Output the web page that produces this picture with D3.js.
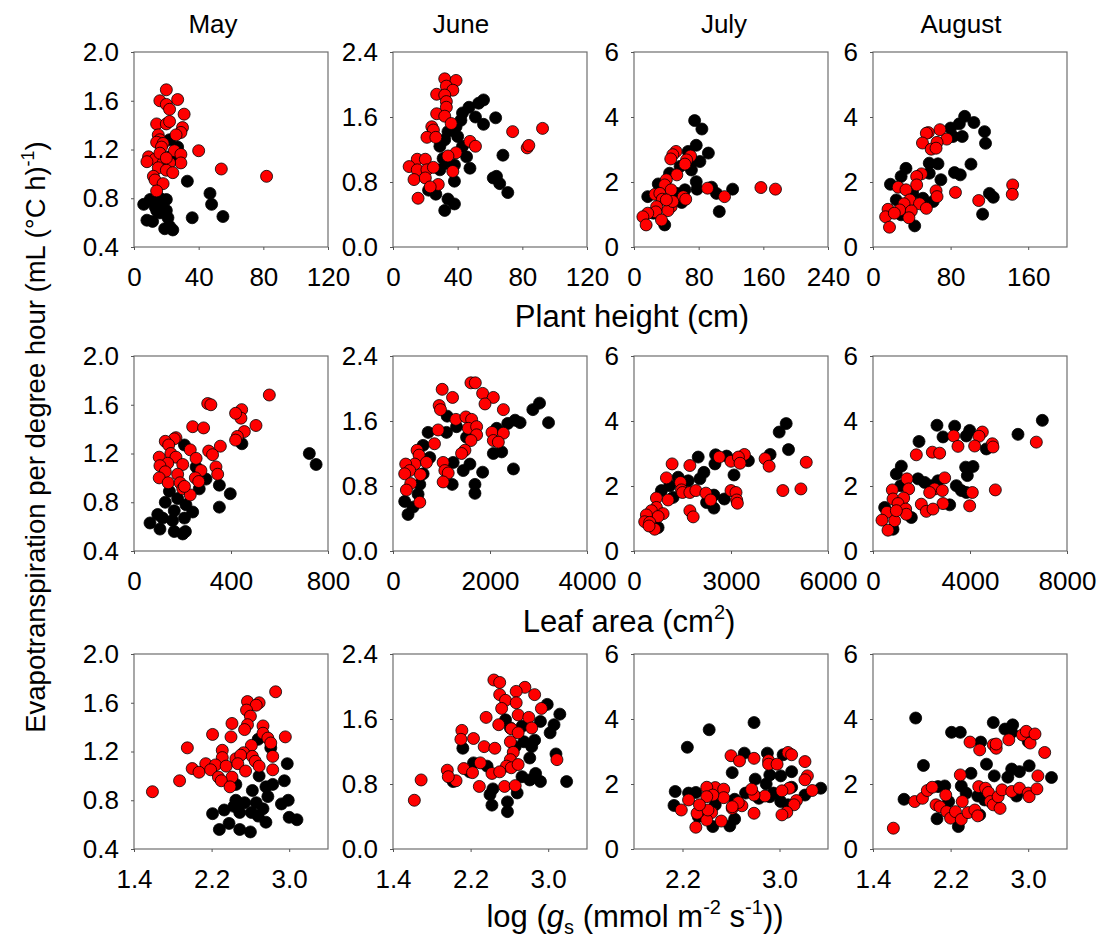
<!DOCTYPE html>
<html>
<head>
<meta charset="utf-8">
<script src="https://cdn.jsdelivr.net/npm/d3@7"></script>
<style>
  body { margin: 0; background: #fff; }
  svg text { font-family: "Liberation Sans", Arial, sans-serif; fill: #000; }
</style>
</head>
<body>
<svg id="chart" width="1102" height="938"></svg>
<script>
// ---- data: [x, y] pairs (black = one group, red = other) ----
const mayHeightRed = [[20,1.69],[16,1.60],[27,1.61],[20,1.57],[22,1.53],[31,1.49],[14,1.41],[20,1.41],[22,1.43],[30,1.38],[29,1.34],[26,1.32],[15,1.32],[16,1.28],[14,1.26],[18,1.25],[17,1.22],[25,1.19],[40,1.19],[29,1.16],[9,1.14],[13,1.12],[8,1.10],[18,1.09],[29,1.09],[22,1.09],[15,1.05],[20,1.03],[54,1.04],[24,1.01],[12,0.98],[82,0.98],[13,0.95],[18,0.92],[14,0.86],[16,1.17],[20,1.13]];
const mayHeightBlack = [[27,1.22],[22,1.28],[33,0.94],[47,0.84],[48,0.75],[55,0.65],[36,0.64],[6,0.75],[10,0.79],[13,0.73],[16,0.80],[20,0.79],[8,0.62],[11.5,0.61],[16,0.68],[20,0.70],[21,0.64],[22,0.57],[19,0.55],[24,0.54],[14,0.70],[17,0.76],[22,1.14],[24,1.12]];
const junHeightRed = [[32,2.07],[39,2.05],[33,1.98],[37,1.93],[27,1.88],[32,1.87],[33,1.79],[33,1.72],[27,1.64],[32,1.61],[36,1.52],[24,1.48],[25,1.44],[21,1.35],[26.5,1.35],[74,1.42],[92.5,1.46],[47.6,1.30],[51,1.24],[83,1.22],[84,1.25],[39,1.16],[34,1.12],[15,1.08],[20,1.08],[10,0.99],[15,0.95],[21,0.95],[25,0.98],[37,0.93],[13,0.83],[20,0.85],[28,0.77],[23,0.74],[15.5,0.60]];
const junHeightBlack = [[56,1.81],[53,1.77],[47,1.72],[43,1.65],[51,1.60],[63.5,1.59],[56,1.51],[42,1.56],[39,1.48],[34,1.42],[32,1.32],[29,1.24],[43,1.24],[45.5,1.11],[68,1.13],[47.6,0.97],[38,1.01],[31,1.09],[62,0.85],[64,0.87],[66,0.78],[71,0.67],[38,0.81],[22,0.70],[26.5,0.65],[34,0.59],[38,0.53],[32,0.45],[29,0.95],[33,1.03],[40,1.36]];
const julHeightRed = [[52,2.94],[48,2.84],[45.5,2.71],[70,2.80],[65,2.68],[63,2.55],[53,2.22],[40,2.07],[38,1.91],[26,1.62],[32,1.65],[46,1.76],[61,1.55],[64,1.47],[35,1.47],[28,1.24],[46,1.24],[42,1.12],[27,1.08],[34,0.83],[17,1.04],[11,0.93],[15,0.68],[91,1.81],[112,1.55],[157,1.83],[175,1.78],[48,1.40],[40,1.45]];
const julHeightBlack = [[75,3.89],[84,3.63],[77,3.13],[92,2.89],[81.5,2.63],[71,2.37],[77,2.01],[78,1.78],[96,1.84],[102,1.65],[105.5,1.09],[122,1.78],[17,1.55],[30,1.94],[44,2.27],[57,2.48],[38,0.68],[59,1.37],[63,1.76],[67,2.94],[71,2.63],[24,1.04],[53,1.65]];
const augHeightRed = [[69,3.61],[57,3.52],[55,3.50],[76,3.32],[66,3.22],[51,3.20],[60,3.01],[65,3.04],[50,2.25],[45,2.17],[26,1.84],[45,1.91],[34,1.76],[85,1.68],[65,1.73],[66,1.55],[38,1.45],[48,1.33],[55,1.19],[32,1.33],[27.5,1.14],[39.5,1.11],[15.5,1.16],[13,0.93],[37,0.90],[17,0.61],[109,1.43],[144,1.91],[143.6,1.62],[22,1.04]];
const augHeightBlack = [[94.5,4.02],[104,3.83],[89,3.79],[80,3.66],[92,3.40],[115,3.55],[116,3.19],[82.5,3.40],[58,2.58],[67,2.56],[101,2.55],[84,2.29],[90,2.22],[70,2.07],[34,2.42],[29,2.17],[18,1.93],[58,2.27],[120,1.65],[124,1.53],[113,1.01],[43,0.65],[24,1.45],[41,1.65],[51.5,1.50],[62,1.40],[29,0.99]];

const mayLeafRed = [[558,1.68],[304,1.61],[317,1.60],[444,1.56],[441,1.49],[419,1.53],[242,1.42],[287,1.41],[503,1.43],[455,1.38],[426,1.34],[419,1.31],[173,1.33],[166,1.32],[129,1.30],[143,1.27],[356,1.26],[308,1.22],[324,1.19],[232,1.23],[152,1.20],[173,1.17],[104,1.17],[256,1.16],[139,1.12],[107,1.10],[201,1.11],[129,1.05],[104,1.00],[276,1.06],[338,1.09],[345,1.03],[180,1.03],[253,1.00],[267,0.97],[141,0.96],[190,0.96],[201,0.91],[232,0.86],[208,0.93]];
const mayLeafBlack = [[751,1.11],[723,1.20],[445,1.28],[208,1.27],[256,1.09],[297,0.99],[352,0.94],[397,0.87],[352,0.76],[269,0.91],[146,0.89],[129,0.80],[180,0.83],[214,0.78],[98,0.70],[66,0.63],[107,0.58],[159,0.65],[208,0.67],[242,0.72],[166,0.56],[201,0.54],[212,0.56],[118,0.67],[166,0.73]];
const junLeafRed = [[1607,2.07],[1697,2.07],[1014,1.99],[1848,1.94],[2069,1.89],[1228,1.89],[1897,1.81],[952,1.79],[979,1.74],[2276,1.74],[1297,1.62],[1503,1.65],[1621,1.62],[1552,1.51],[1724,1.53],[1724,1.43],[931,1.49],[2041,1.46],[2276,1.45],[2069,1.36],[1607,1.36],[2172,1.34],[855,1.32],[1483,1.24],[1414,1.20],[497,1.24],[538,1.18],[690,1.09],[448,1.07],[262,1.07],[1034,1.09],[1069,0.99],[1138,0.96],[345,0.99],[241,0.95],[566,0.94],[366,0.83],[1034,0.85],[276,0.75],[552,0.60]];
const junLeafBlack = [[3021,1.82],[2883,1.74],[3207,1.58],[2621,1.58],[2517,1.61],[2366,1.57],[2138,1.51],[724,1.46],[1103,1.46],[1117,1.66],[1310,1.53],[1517,1.40],[621,1.30],[759,1.15],[2069,1.20],[2241,1.22],[1241,1.09],[1586,1.07],[1448,0.99],[1848,0.97],[2483,1.01],[1221,0.82],[1690,0.82],[1690,0.71],[552,0.82],[517,0.70],[414,0.54],[241,0.61],[310,0.45],[621,0.95]];
const julLeafRed = [[3414,2.97],[2638,2.89],[3000,2.76],[3228,2.89],[3279,2.70],[4055,2.84],[4179,2.61],[5327,2.73],[1179,2.68],[1728,2.63],[1003,2.25],[1438,2.11],[1469,1.88],[1500,1.80],[1728,1.80],[1914,1.86],[2224,1.78],[2369,1.57],[3000,1.86],[3155,1.80],[3176,1.57],[3197,1.47],[4603,1.86],[5162,1.91],[693,1.63],[1055,1.57],[693,1.34],[900,1.15],[538,1.24],[1728,1.24],[1831,1.05],[745,1.06],[383,1.11],[331,0.90],[486,0.88],[641,0.67],[465,0.77]];
const julLeafBlack = [[4707,3.92],[4490,3.66],[4779,3.12],[4210,2.97],[3538,2.78],[3093,2.34],[2503,2.68],[2524,2.96],[2865,2.92],[1986,2.89],[2162,2.42],[2038,2.22],[2472,1.72],[2245,1.49],[2472,1.32],[2793,1.60],[1366,2.27],[1107,2.01],[848,1.86],[1210,1.65],[745,0.72],[1676,2.16]];
const augLeafRed = [[6735,3.35],[4509,3.66],[4371,3.53],[3326,3.54],[3505,3.22],[4192,3.23],[4921,3.30],[4948,3.20],[2447,3.04],[2749,3.01],[1787,2.96],[2955,2.25],[1402,2.22],[1471,1.91],[797,1.88],[5045,1.88],[4096,1.80],[2543,1.91],[2337,1.80],[2859,1.86],[825,1.60],[1265,1.63],[1031,1.46],[1993,1.44],[2887,1.46],[3986,1.39],[2199,1.22],[2474,1.29],[1347,1.29],[1375,1.13],[577,1.19],[371,0.95],[893,0.93],[619,0.64],[962,1.24]];
const augLeafBlack = [[6983,4.02],[5979,3.59],[2639,3.87],[3368,3.84],[3986,3.71],[2887,3.51],[3849,3.54],[4674,3.14],[1897,3.37],[4124,2.60],[3821,2.58],[3890,2.32],[1168,2.61],[962,2.37],[1856,2.22],[2405,2.01],[2680,2.16],[3436,2.01],[3643,1.86],[3849,1.80],[3162,1.42],[1581,1.03],[825,0.67],[481,1.34],[1141,2.01],[2131,2.11]];

const mayGsRed = [[2.86,1.69],[2.57,1.61],[2.69,1.60],[2.66,1.58],[2.56,1.54],[2.60,1.49],[2.57,1.42],[2.54,1.38],[2.41,1.43],[2.73,1.41],[2.73,1.35],[2.78,1.31],[2.96,1.32],[2.21,1.34],[2.40,1.32],[2.81,1.27],[2.61,1.25],[1.95,1.23],[2.31,1.21],[2.31,1.15],[2.53,1.19],[2.45,1.14],[2.50,1.17],[2.62,1.16],[2.83,1.16],[2.65,1.12],[2.69,1.08],[2.14,1.10],[2.24,1.09],[2.35,1.08],[2.47,1.10],[2.00,1.06],[2.07,1.03],[2.19,1.05],[2.55,1.04],[2.83,1.05],[2.27,0.99],[2.41,0.99],[1.87,0.96],[2.30,0.96],[2.39,0.91],[1.59,0.87]];
const mayGsBlack = [[2.98,1.10],[2.95,0.96],[2.83,0.93],[2.69,1.00],[2.76,0.91],[2.62,0.88],[2.81,1.23],[2.68,1.30],[2.99,0.80],[2.92,0.77],[2.78,0.83],[2.45,0.80],[2.43,0.75],[2.54,0.78],[2.66,0.78],[2.73,0.73],[2.33,0.72],[2.49,0.70],[2.61,0.70],[2.76,0.62],[2.68,0.67],[2.21,0.69],[2.28,0.56],[2.38,0.61],[2.49,0.56],[2.60,0.54],[3.00,0.66],[3.08,0.64],[2.45,0.93]];
const junGsRed = [[2.44,2.08],[2.50,2.05],[2.76,1.99],[2.67,1.94],[2.86,1.90],[2.50,1.90],[2.56,1.83],[2.67,1.80],[2.52,1.73],[2.93,1.73],[2.69,1.65],[2.80,1.62],[2.36,1.62],[2.49,1.53],[2.83,1.49],[2.62,1.48],[2.69,1.43],[2.11,1.46],[2.10,1.35],[2.23,1.36],[2.34,1.26],[2.45,1.24],[2.61,1.32],[2.64,1.19],[2.61,1.10],[2.57,1.02],[2.62,1.00],[2.69,1.04],[2.30,1.06],[1.96,0.97],[2.13,0.99],[2.22,0.94],[2.42,0.93],[2.50,0.95],[2.05,0.84],[2.29,0.77],[2.55,0.77],[2.66,0.78],[3.09,1.10],[1.69,0.85],[1.62,0.60],[1.97,0.89]];
const junGsBlack = [[3.12,1.66],[2.99,1.78],[3.06,1.53],[3.02,1.43],[2.92,1.57],[2.86,1.34],[2.75,1.32],[2.61,1.49],[2.56,1.59],[2.73,1.51],[2.81,1.12],[2.83,1.26],[3.08,1.17],[3.19,0.83],[2.92,0.83],[2.81,0.85],[2.87,0.93],[2.73,0.89],[2.68,0.69],[2.58,0.58],[2.58,0.46],[2.42,0.54],[2.40,0.67],[2.43,0.74],[2.12,1.24],[2.23,1.06],[2.02,0.83],[2.19,0.95],[2.37,1.02],[2.66,1.26]];
const julGsRed = [[2.60,2.87],[2.67,2.71],[2.79,2.79],[2.91,2.72],[2.91,2.61],[2.98,2.61],[3.07,2.97],[3.10,2.90],[3.21,2.69],[3.23,2.25],[3.21,2.13],[3.27,1.80],[3.08,1.87],[3.02,1.79],[3.14,1.49],[3.12,1.36],[3.06,1.13],[3.02,1.05],[2.88,1.63],[2.79,1.66],[2.77,1.84],[2.79,1.10],[2.69,1.33],[2.61,1.25],[2.66,1.43],[2.61,1.30],[2.47,1.89],[2.40,1.90],[2.54,1.84],[2.54,1.58],[2.45,1.66],[2.40,1.61],[2.44,1.12],[2.52,0.86],[2.40,0.89],[2.32,1.10],[2.41,1.20],[2.31,0.67],[2.25,1.51],[2.19,1.20],[2.34,1.36]];
const julGsBlack = [[2.79,3.89],[2.42,3.67],[2.24,3.13],[2.71,2.95],[2.90,2.95],[3.03,2.90],[3.10,2.38],[3.01,2.25],[2.92,2.28],[2.61,2.35],[2.80,2.15],[2.89,2.00],[2.14,1.77],[2.25,1.72],[2.31,1.74],[2.13,1.34],[2.47,1.36],[2.63,1.53],[2.72,1.72],[2.92,1.61],[3.01,1.46],[3.07,1.36],[3.10,1.90],[3.21,1.66],[3.34,1.87],[2.45,0.69],[2.59,0.71],[2.63,0.92],[2.33,1.00],[2.83,1.56],[2.95,1.72]];
const augGsRed = [[1.61,0.64],[1.83,1.46],[1.91,1.56],[1.96,1.80],[2.01,1.90],[2.05,1.36],[2.09,1.30],[2.15,1.66],[2.16,1.15],[2.20,0.95],[2.25,1.15],[2.31,0.91],[2.32,1.46],[2.30,2.28],[2.38,1.12],[2.45,1.20],[2.48,1.02],[2.49,1.92],[2.56,1.87],[2.59,1.74],[2.61,1.46],[2.64,1.36],[2.71,1.25],[2.69,1.61],[2.73,1.82],[2.83,1.77],[2.91,1.87],[3.00,1.72],[3.01,1.61],[3.09,1.85],[3.10,2.25],[3.17,2.97],[2.40,3.29],[2.50,3.05],[2.64,3.21],[2.67,3.10],[2.67,3.23],[2.80,3.36],[2.94,3.51],[2.98,3.62],[3.02,3.26],[3.07,3.54]];
const augGsBlack = [[1.84,4.03],[1.92,2.57],[1.72,1.53],[2.21,3.59],[2.30,3.59],[2.64,3.89],[2.76,3.69],[2.84,3.82],[2.83,3.59],[3.00,3.31],[2.51,3.29],[2.57,2.61],[2.65,2.25],[2.83,2.46],[2.91,2.38],[3.01,2.56],[3.24,2.20],[2.41,2.33],[2.31,1.94],[2.14,1.94],[2.07,1.92],[2.18,1.46],[2.36,1.72],[2.48,1.63],[2.55,1.51],[2.28,0.69],[2.06,0.93],[2.50,1.05],[2.79,2.21],[2.88,1.63]];

// ---- axes ----
const months = ['May', 'June', 'July', 'August'];
const xDomains = [
  [[0,120],[0,120],[0,240],[0,200]],
  [[0,800],[0,4000],[0,6000],[0,8000]],
  [[1.4,3.4],[1.4,3.4],[1.8,3.4],[1.4,3.4]]
];
const xTicks = [
  [[0,40,80,120],[0,40,80,120],[0,80,160,240],[0,80,160]],
  [[0,400,800],[0,2000,4000],[0,3000,6000],[0,4000,8000]],
  [[1.4,2.2,3.0],[1.4,2.2,3.0],[2.2,3.0],[1.4,2.2,3.0]]
];
const yDomains = [[0.4,2.0],[0,2.4],[0,6],[0,6]];
const yTicks = [[0.4,0.8,1.2,1.6,2.0],[0,0.8,1.6,2.4],[0,2,4,6],[0,2,4,6]];

const blackSets = [
  [mayHeightBlack, junHeightBlack, julHeightBlack, augHeightBlack],
  [mayLeafBlack, junLeafBlack, julLeafBlack, augLeafBlack],
  [mayGsBlack, junGsBlack, julGsBlack, augGsBlack]
];
const redSets = [
  [mayHeightRed, junHeightRed, julHeightRed, augHeightRed],
  [mayLeafRed, junLeafRed, julLeafRed, augLeafRed],
  [mayGsRed, junGsRed, julGsRed, augGsRed]
];

// layout
const colLeft = [134, 393, 634, 873];
const rowTop = [52, 356, 654];
const pw = 194, ph = 195;
const titleX = [213, 461, 724, 961];
const tickFont = 26;
const r = 6;

const svg = d3.select('#chart');

const xFmt = [d3.format('d'), d3.format('d'), d3.format('.1f')];
const yFmt = [d3.format('.1f'), d3.format('.1f'), d3.format('d'), d3.format('d')];

for (let row = 0; row < 3; row++) {
  for (let col = 0; col < 4; col++) {
    const g = svg.append('g')
      .attr('transform', 'translate(' + colLeft[col] + ',' + rowTop[row] + ')');

    const x = d3.scaleLinear().domain(xDomains[row][col]).range([0, pw]);
    const y = d3.scaleLinear().domain(yDomains[col]).range([ph, 0]);

    // frame
    g.append('rect')
      .attr('width', pw).attr('height', ph)
      .attr('fill', '#fff')
      .attr('stroke', '#6e6e6e')
      .attr('stroke-width', 1.2);

    const xAxis = d3.axisBottom(x)
      .tickValues(xTicks[row][col])
      .tickFormat(xFmt[row])
      .tickSize(3).tickSizeOuter(0).tickPadding(18);
    const gx = g.append('g').attr('transform', 'translate(0,' + ph + ')').call(xAxis);
    gx.attr('font-size', tickFont);
    gx.select('.domain').remove();
    gx.selectAll('line').attr('stroke', '#555');

    const yAxis = d3.axisLeft(y)
      .tickValues(yTicks[col])
      .tickFormat(yFmt[col])
      .tickSize(3).tickSizeOuter(0).tickPadding(12);
    const gy = g.append('g').call(yAxis);
    gy.attr('font-size', tickFont);
    gy.select('.domain').remove();
    gy.selectAll('line').attr('stroke', '#555');

    // points: black group first, red group on top
    g.selectAll('circle.blk')
      .data(blackSets[row][col])
      .enter().append('circle')
      .attr('class', 'blk')
      .attr('cx', d => x(d[0]))
      .attr('cy', d => y(d[1]))
      .attr('r', r)
      .attr('fill', '#000')
      .attr('stroke', '#000')
      .attr('stroke-width', 0.8);

    g.selectAll('circle.red')
      .data(redSets[row][col])
      .enter().append('circle')
      .attr('class', 'red')
      .attr('cx', d => x(d[0]))
      .attr('cy', d => y(d[1]))
      .attr('r', r)
      .attr('fill', '#ff0000')
      .attr('stroke', '#000')
      .attr('stroke-width', 0.8);
  }
}

// month titles
svg.selectAll('text.month')
  .data(months)
  .enter().append('text')
  .attr('class', 'month')
  .attr('x', (d, i) => titleX[i])
  .attr('y', 33)
  .attr('text-anchor', 'middle')
  .attr('font-size', 26)
  .text(d => d);

// x axis titles
const titleSize = 31;
svg.append('text')
  .attr('x', 632).attr('y', 327)
  .attr('text-anchor', 'middle')
  .attr('font-size', titleSize)
  .text('Plant height (cm)');

const leaf = svg.append('text')
  .attr('x', 629).attr('y', 632)
  .attr('text-anchor', 'middle')
  .attr('font-size', titleSize);
leaf.append('tspan').text('Leaf area (cm');
leaf.append('tspan').attr('font-size', 20).attr('dy', -13).text('2');
leaf.append('tspan').attr('dy', 13).text(')');

const gs = svg.append('text')
  .attr('x', 635).attr('y', 927)
  .attr('text-anchor', 'middle')
  .attr('font-size', titleSize);
gs.append('tspan').text('log (');
gs.append('tspan').attr('font-style', 'italic').text('g');
gs.append('tspan').attr('font-size', 20).attr('dy', 7).text('s');
gs.append('tspan').attr('dy', -7).text(' (mmol m');
gs.append('tspan').attr('font-size', 20).attr('dy', -13).text('-2');
gs.append('tspan').attr('dy', 13).text(' s');
gs.append('tspan').attr('font-size', 20).attr('dy', -13).text('-1');
gs.append('tspan').attr('dy', 13).text('))');

// y axis title
const yt = svg.append('text')
  .attr('transform', 'translate(45,437) rotate(-90)')
  .attr('text-anchor', 'middle')
  .attr('font-size', 27.5);
yt.append('tspan').text('Evapotranspiration per degree hour (mL (\u00B0C h)');
yt.append('tspan').attr('font-size', 18).attr('dy', -11).text('-1');
yt.append('tspan').attr('dy', 11).text(')');
</script>
</body>
</html>
